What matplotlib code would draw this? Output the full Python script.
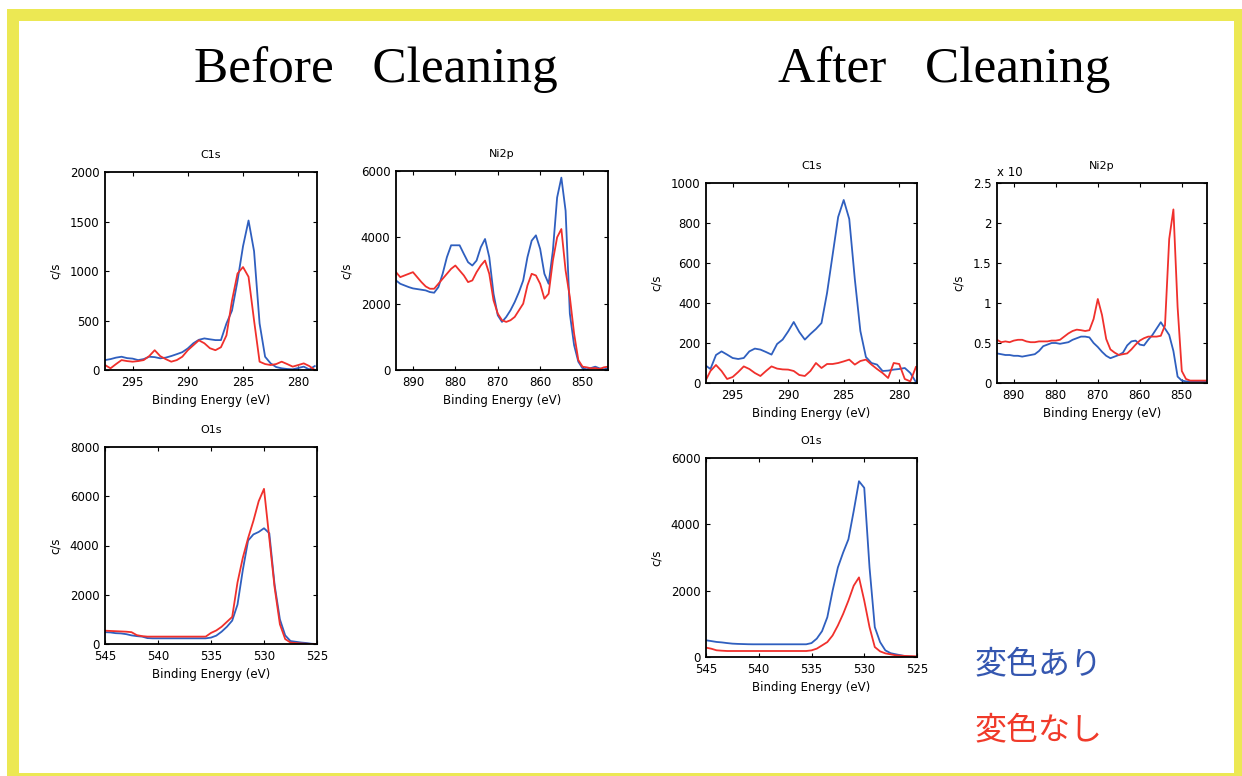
import matplotlib
matplotlib.use("Agg")
import matplotlib.pyplot as plt
from matplotlib.patches import Rectangle
import numpy as np

# ---------------- data ----------------
c1s_energy = [297.5, 297, 296.5, 296, 295.5, 295, 294.5, 294, 293.5, 293, 292.5, 292,
              291.5, 291, 290.5, 290, 289.5, 289, 288.5, 288, 287.5, 287, 286.5, 286,
              285.5, 285, 284.5, 284, 283.5, 283, 282.5, 282, 281.5, 281, 280.5, 280,
              279.5, 279, 278.5]
before_c1s_blue = [100, 110, 125, 134, 120, 115, 100, 110, 134, 130, 118, 125,
                   141, 160, 180, 218, 270, 305, 319, 310, 302, 302, 470, 600,
                   900, 1250, 1510, 1200, 470, 134, 67, 30, 17, 10, 7, 20,
                   34, 5, 40]
before_c1s_red = [50, 17, 60, 100, 90, 84, 90, 100, 140, 200, 140, 110,
                  84, 100, 134, 200, 250, 300, 270, 220, 200, 230, 350, 700,
                  974, 1040, 941, 500, 84, 60, 50, 60, 84, 60, 34, 50,
                  67, 40, 0]
after_c1s_blue = [90, 70, 140, 158, 142, 125, 120, 125, 158, 172, 167, 155,
                  142, 195, 217, 258, 305, 255, 217, 245, 270, 300, 450, 640,
                  830, 915, 820, 520, 260, 130, 100, 92, 60, 62, 67, 70,
                  75, 50, 5]
after_c1s_red = [5, 60, 90, 60, 20, 30, 55, 83, 70, 50, 35, 60,
                 83, 72, 68, 67, 60, 40, 35, 60, 100, 75, 95, 95,
                 100, 108, 117, 92, 110, 117, 92, 70, 50, 25, 100, 95,
                 20, 8, 80]

ni2p_energy = list(range(894, 843, -1))
before_ni2p_blue = [2700, 2600, 2550, 2500, 2460, 2440, 2420, 2400, 2350, 2330,
                    2500, 2900, 3400, 3760, 3760, 3760, 3500, 3250, 3150, 3300,
                    3700, 3950, 3400, 2300, 1650, 1450, 1600, 1800, 2050, 2350,
                    2700, 3400, 3900, 4060, 3650, 2900, 2600, 3600, 5200, 5800,
                    4800, 1700, 750, 250, 50, 20, 60, 100, 50, 20, 50]
before_ni2p_red = [2950, 2800, 2850, 2900, 2950, 2800, 2650, 2520, 2450, 2450,
                   2600, 2750, 2900, 3050, 3150, 3000, 2850, 2650, 2700, 2950,
                   3150, 3300, 2900, 2100, 1700, 1500, 1450, 1500, 1600, 1800,
                   2000, 2550, 2900, 2850, 2600, 2150, 2300, 3300, 4000, 4250,
                   3000, 2200, 1100, 300, 100, 80, 50, 60, 30, 80, 100]
after_ni2p_blue = [0.37, 0.36, 0.35, 0.35, 0.34, 0.34, 0.33, 0.34, 0.35, 0.36,
                   0.40, 0.46, 0.48, 0.50, 0.50, 0.49, 0.50, 0.51, 0.54, 0.56,
                   0.58, 0.58, 0.57, 0.50, 0.45, 0.39, 0.34, 0.31, 0.33, 0.35,
                   0.38, 0.47, 0.52, 0.53, 0.48, 0.47, 0.54, 0.60, 0.68, 0.76,
                   0.68, 0.60, 0.40, 0.08, 0.03, 0.02, 0.02, 0.02, 0.02, 0.02, 0.02]
after_ni2p_red = [0.54, 0.51, 0.52, 0.51, 0.53, 0.54, 0.54, 0.52, 0.51, 0.51,
                  0.52, 0.52, 0.52, 0.53, 0.53, 0.54, 0.58, 0.62, 0.65, 0.667,
                  0.66, 0.65, 0.66, 0.80, 1.05, 0.85, 0.55, 0.42, 0.38, 0.35,
                  0.36, 0.37, 0.42, 0.48, 0.53, 0.56, 0.58, 0.58, 0.58, 0.59,
                  0.72, 1.80, 2.17, 0.95, 0.15, 0.05, 0.03, 0.03, 0.03, 0.03, 0.03]

o1s_energy = [545, 544.5, 544, 543.5, 543, 542.5, 542, 541.5, 541, 540.5, 540,
              539.5, 539, 538.5, 538, 537.5, 537, 536.5, 536, 535.5, 535,
              534.5, 534, 533.5, 533, 532.5, 532, 531.5, 531, 530.5, 530,
              529.5, 529, 528.5, 528, 527.5, 527, 526.5, 526, 525.5, 525]
before_o1s_blue = [480, 470, 440, 430, 400, 350, 320, 300, 240, 230, 230,
                   230, 230, 230, 230, 230, 230, 230, 230, 230, 260,
                   340, 500, 700, 950, 1600, 3000, 4200, 4450, 4550, 4700,
                   4500, 2400, 1000, 350, 120, 90, 60, 40, 10, 0]
before_o1s_red = [540, 530, 520, 510, 500, 480, 360, 320, 300, 300, 300,
                  300, 300, 300, 300, 300, 300, 300, 300, 300, 450,
                  550, 700, 900, 1100, 2500, 3500, 4300, 5000, 5800, 6300,
                  4300, 2300, 800, 200, 60, 40, 20, 10, 0, 0]
after_o1s_blue = [504, 480, 454, 440, 420, 403, 395, 390, 385, 383, 383,
                  383, 383, 383, 383, 383, 383, 383, 383, 383, 420,
                  554, 780, 1200, 2000, 2700, 3150, 3550, 4400, 5300, 5100,
                  2700, 900, 450, 200, 115, 81, 50, 20, 10, 0]
after_o1s_red = [282, 250, 202, 190, 181, 181, 181, 181, 181, 181, 181,
                 181, 181, 181, 181, 181, 181, 181, 181, 181, 200,
                 252, 350, 450, 650, 950, 1300, 1700, 2150, 2400, 1700,
                 900, 300, 170, 110, 80, 50, 40, 30, 25, 20]

c1s_ticks = [295, 290, 285, 280]
ni2p_ticks = [890, 880, 870, 860, 850]
o1s_ticks = [545, 540, 535, 530, 525]

legend_labels = ["変色あり", "変色なし"]
section_titles = ["Before   Cleaning", "After   Cleaning"]

# ---------------- styling ----------------
W, H = 1242, 776
BLUE = "#2f5fbf"
RED = "#f0302c"
YELLOW = "#ece853"

fig = plt.figure(figsize=(W / 100, H / 100), dpi=100)
fig.patch.set_facecolor("white")

# yellow frame
for (x0, y0, w, h) in [(7, 9, 1235, 12), (7, 9, 12, 767), (1234, 9, 8, 767), (7, 773, 1235, 3)]:
    fig.patches.append(Rectangle((x0 / W, 1 - (y0 + h) / H), w / W, h / H,
                                 transform=fig.transFigure, facecolor=YELLOW,
                                 edgecolor="none", zorder=0))


def add_axes(l, t, r, b):
    return fig.add_axes([l / W, 1 - b / H, (r - l) / W, (b - t) / H])


def style(ax, title, xlim, xticks, ylim, yticks, ylabels=None):
    ax.set_xlim(*xlim)
    ax.set_ylim(*ylim)
    ax.set_xticks(xticks)
    ax.set_yticks(yticks)
    if ylabels is not None:
        ax.set_yticklabels(ylabels)
    ax.tick_params(direction="in", top=True, right=True, length=3, width=0.8,
                   labelsize=8.5, pad=4)
    for s in ax.spines.values():
        s.set_linewidth(1.3)
    ax.set_title(title, fontsize=8, pad=10)
    ax.set_xlabel("Binding Energy (eV)", fontsize=8.5, labelpad=4)
    ax.set_ylabel("c/s", fontsize=8.5, labelpad=6)


panels = [
    ((105, 172, 317, 370), "C1s", c1s_energy, before_c1s_blue, before_c1s_red,
     (297.5, 278.3), c1s_ticks, (0, 2000), [0, 500, 1000, 1500, 2000], None),
    ((396, 171, 608, 370), "Ni2p", ni2p_energy, before_ni2p_blue, before_ni2p_red,
     (894, 844), ni2p_ticks, (0, 6000), [0, 2000, 4000, 6000], None),
    ((105, 447, 317, 644), "O1s", o1s_energy, before_o1s_blue, before_o1s_red,
     (545, 525), o1s_ticks, (0, 8000), [0, 2000, 4000, 6000, 8000], None),
    ((706, 183, 917, 383), "C1s", c1s_energy, after_c1s_blue, after_c1s_red,
     (297.4, 278.4), c1s_ticks, (0, 1000), [0, 200, 400, 600, 800, 1000], None),
    ((997, 183, 1207, 383), "Ni2p", ni2p_energy, after_ni2p_blue, after_ni2p_red,
     (894, 844), ni2p_ticks, (0, 2.5), [0, 0.5, 1, 1.5, 2, 2.5],
     ["0", "0.5", "1", "1.5", "2", "2.5"]),
    ((706, 458, 917, 657), "O1s", o1s_energy, after_o1s_blue, after_o1s_red,
     (545, 525), o1s_ticks, (0, 6000), [0, 2000, 4000, 6000], None),
]

for box, title, x, yb, yr, xlim, xt, ylim, yt, yl in panels:
    ax = add_axes(*box)
    ax.plot(x, yb, color=BLUE, lw=1.3)
    ax.plot(x, yr, color=RED, lw=1.3)
    style(ax, title, xlim, xt, ylim, yt, yl)
    if title == "Ni2p" and ylim[1] < 10:
        ax.text(0.0, 1.02, "x 10", transform=ax.transAxes, fontsize=8.5,
                ha="left", va="bottom")

# section titles
fig.text(376 / W, 1 - 82 / H, section_titles[0], family="Liberation Serif",
         fontsize=37, ha="center", va="baseline")
fig.text(944 / W, 1 - 82 / H, section_titles[1], family="Liberation Serif",
         fontsize=37, ha="center", va="baseline")

# legend texts
fig.text(975 / W, 1 - 664 / H, legend_labels[0], family=["Noto Sans CJK JP", "DejaVu Sans"],
         fontsize=23, color="#3557b0", ha="left", va="center")
fig.text(975 / W, 1 - 730 / H, legend_labels[1], family=["Noto Sans CJK JP", "DejaVu Sans"],
         fontsize=23, color="#f03a2a", ha="left", va="center")

fig.savefig("out.png", dpi=100, facecolor="white")
